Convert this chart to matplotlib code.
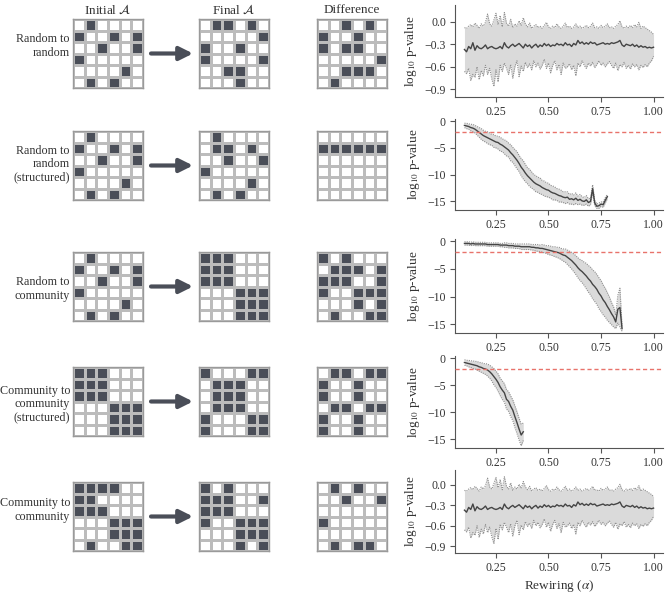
import numpy as np
import matplotlib
matplotlib.use("Agg")
import matplotlib.pyplot as plt
from matplotlib.colors import ListedColormap

plt.rcParams['font.family'] = ['Liberation Serif', 'DejaVu Serif']
plt.rcParams['mathtext.fontset'] = 'stix'

# ---------------- data ----------------
row_labels = ["Random to\nrandom", "Random to\nrandom\n(structured)", "Random to\ncommunity",
              "Community to\ncommunity\n(structured)", "Community to\ncommunity"]
col_titles = [r"Initial $\mathcal{A}$", r"Final $\mathcal{A}$", "Difference"]

rand_init = [[0,1,0,0,0,0],[1,0,0,1,0,1],[0,0,1,0,0,1],[1,0,0,0,0,0],[0,0,0,0,1,0],[0,1,0,1,0,0]]
comm_block = [[1,1,1,0,0,0],[1,1,1,0,0,0],[1,1,1,0,0,0],[0,0,0,1,1,1],[0,0,0,1,1,1],[0,0,0,1,1,1]]

r1_final = [[0,1,1,0,1,0],[0,0,0,0,0,1],[1,0,0,1,0,0],[1,0,0,0,0,1],[0,0,1,1,0,0],[0,0,0,1,0,0]]
r1_diff  = [[0,0,1,0,1,0],[1,0,0,1,0,0],[1,0,1,1,0,0],[0,0,0,0,0,1],[0,0,1,1,1,0],[0,1,0,0,0,0]]
r2_final = [[0,1,0,0,0,0],[0,1,1,0,1,0],[0,0,1,0,0,1],[1,0,0,0,0,0],[0,0,0,0,1,0],[0,1,0,1,0,0]]
r2_diff  = [[0,0,0,0,0,0],[1,1,1,1,1,1],[0,0,0,0,0,0],[0,0,0,0,0,0],[0,0,0,0,0,0],[0,0,0,0,0,0]]
r3_diff  = [[1,0,1,0,0,0],[0,1,1,1,0,1],[1,1,1,0,0,1],[1,0,0,1,1,1],[0,0,0,1,0,1],[0,1,0,0,1,1]]
r4_final = [[1,0,0,0,1,1],[0,1,1,1,0,0],[0,1,1,1,0,0],[0,1,1,1,0,0],[1,0,0,0,1,1],[1,0,0,0,1,1]]
r4_diff  = [[0,1,1,0,1,1],[1,0,0,1,0,0],[1,0,0,1,0,0],[0,1,1,0,1,1],[1,0,0,1,0,0],[1,0,0,1,0,0]]
r5_init  = [[1,1,1,1,0,0],[1,1,0,0,0,0],[1,1,1,0,0,0],[0,0,0,1,1,1],[0,0,0,1,1,1],[0,1,0,0,1,1]]
r5_final = [[1,0,1,0,0,0],[1,1,1,0,0,1],[1,1,1,0,0,0],[1,0,0,1,1,1],[0,0,0,1,1,1],[0,0,0,1,0,1]]
r5_diff  = [[0,1,0,1,0,0],[0,0,1,0,0,1],[0,0,0,0,0,0],[1,0,0,0,0,0],[0,0,0,0,0,0],[0,1,0,1,1,0]]

grids = [[rand_init, r1_final, r1_diff],
         [rand_init, r2_final, r2_diff],
         [rand_init, comm_block, r3_diff],
         [comm_block, r4_final, r4_diff],
         [r5_init, r5_final, r5_diff]]

alpha = [0.10,0.11,0.12,0.13,0.14,0.15,0.16,0.17,0.18,0.19,
         0.20,0.21,0.22,0.23,0.24,0.25,0.26,0.27,0.28,0.29,
         0.30,0.31,0.32,0.33,0.34,0.35,0.36,0.37,0.38,0.39,
         0.40,0.41,0.42,0.43,0.44,0.45,0.46,0.47,0.48,0.49,
         0.50,0.51,0.52,0.53,0.54,0.55,0.56,0.57,0.58,0.59,
         0.60,0.61,0.62,0.63,0.64,0.65,0.66,0.67,0.68,0.69,
         0.70,0.71,0.72,0.73,0.74,0.75,0.76,0.77,0.78,0.79,
         0.80,0.81,0.82,0.83,0.84,0.85,0.86,0.87,0.88,0.89,
         0.90,0.91,0.92,0.93,0.94,0.95,0.96,0.97,0.98,0.99,1.00]

mean_rr = [-0.37,-0.40,-0.33,-0.36,-0.28,-0.38,-0.32,-0.35,-0.36,-0.34,
           -0.31,-0.36,-0.34,-0.33,-0.35,-0.36,-0.35,-0.33,-0.36,-0.28,
           -0.33,-0.35,-0.32,-0.30,-0.33,-0.31,-0.29,-0.32,-0.35,-0.30,
           -0.33,-0.31,-0.35,-0.32,-0.30,-0.34,-0.31,-0.33,-0.29,-0.32,
           -0.30,-0.33,-0.31,-0.32,-0.29,-0.31,-0.30,-0.32,-0.28,-0.31,
           -0.30,-0.33,-0.29,-0.31,-0.25,-0.29,-0.27,-0.30,-0.28,-0.30,
           -0.27,-0.29,-0.28,-0.31,-0.30,-0.29,-0.28,-0.30,-0.29,-0.30,
           -0.28,-0.29,-0.28,-0.27,-0.25,-0.31,-0.33,-0.30,-0.31,-0.32,
           -0.30,-0.33,-0.31,-0.34,-0.32,-0.34,-0.33,-0.35,-0.34,-0.35,-0.34]
up_rr = [-0.08,-0.09,-0.06,-0.04,-0.07,-0.02,-0.05,-0.09,-0.03,-0.06,
         -0.01,0.10,-0.03,-0.06,0.02,0.11,-0.04,0.08,-0.07,0.12,
         -0.02,-0.06,0.03,-0.08,-0.03,-0.06,0.01,-0.05,0.05,-0.03,
         -0.07,-0.02,-0.09,-0.06,-0.04,-0.08,-0.06,-0.09,-0.05,-0.01,
         -0.07,-0.09,-0.06,-0.08,-0.03,-0.07,-0.09,-0.06,-0.02,-0.08,
         -0.06,-0.09,-0.07,-0.03,-0.08,-0.06,-0.09,-0.07,-0.05,-0.08,
         -0.06,-0.02,-0.08,-0.07,-0.09,-0.05,-0.08,-0.06,-0.03,-0.08,
         -0.07,-0.09,-0.06,-0.04,0.01,-0.07,-0.09,-0.06,-0.08,-0.05,
         -0.08,-0.04,-0.07,-0.01,-0.09,-0.06,-0.08,-0.10,-0.12,-0.14,-0.17]
lo_rr = [-0.66,-0.69,-0.62,-0.78,-0.70,-0.74,-0.60,-0.77,-0.65,-0.72,
         -0.58,-0.70,-0.62,-0.76,-0.86,-0.64,-0.80,-0.58,-0.66,-0.55,
         -0.62,-0.70,-0.57,-0.75,-0.60,-0.52,-0.73,-0.59,-0.66,-0.54,
         -0.61,-0.56,-0.64,-0.52,-0.60,-0.55,-0.63,-0.58,-0.50,-0.62,
         -0.55,-0.68,-0.58,-0.52,-0.64,-0.57,-0.70,-0.55,-0.62,-0.60,
         -0.56,-0.64,-0.58,-0.72,-0.55,-0.60,-0.52,-0.58,-0.62,-0.55,
         -0.59,-0.54,-0.61,-0.57,-0.52,-0.58,-0.55,-0.60,-0.56,-0.53,
         -0.58,-0.62,-0.55,-0.65,-0.57,-0.60,-0.54,-0.62,-0.58,-0.63,
         -0.56,-0.60,-0.57,-0.64,-0.58,-0.61,-0.57,-0.60,-0.55,-0.52,-0.46]

mean_rs = [-0.8,-0.9,-1.0,-1.2,-1.3,-1.5,-1.8,-2.1,-2.4,-2.7,
           -2.9,-3.1,-3.3,-3.5,-3.7,-3.9,-4.0,-4.3,-4.5,-4.8,
           -5.1,-5.4,-5.9,-6.3,-6.8,-7.3,-7.9,-8.6,-9.1,-9.7,
           -10.2,-10.6,-11.0,-11.4,-11.7,-11.9,-12.1,-12.4,-12.6,-12.8,
           -12.9,-13.2,-13.4,-13.5,-13.7,-13.9,-14.0,-14.2,-14.3,-14.2,
           -14.6,-14.5,-14.7,-14.4,-14.8,-14.6,-14.9,-15.0,-14.7,-15.2,
           -15.0,-12.6,-15.3,-15.9,-15.8,-15.5,-15.6,-14.8,-14.1]
spread_rs = [0.4,0.5,0.5,0.6,0.7,0.7,0.8,0.9,1.0,1.0,
             1.0,1.1,1.1,1.0,1.2,1.1,1.2,1.3,1.2,1.3,
             1.4,1.3,1.5,1.4,1.5,1.6,1.5,1.6,1.7,1.6,
             1.5,1.6,1.5,1.4,1.5,1.4,1.5,1.3,1.4,1.3,
             1.3,1.2,1.3,1.2,1.1,1.2,1.1,1.0,1.1,1.0,
             0.9,1.0,0.9,1.0,0.8,0.9,0.8,0.7,0.8,0.7,
             0.6,0.7,0.5,0.4,0.5,0.4,0.5,0.5,0.4]

mean_rc = [-0.4,-0.4,-0.4,-0.5,-0.4,-0.5,-0.5,-0.5,-0.5,-0.5,
           -0.5,-0.6,-0.6,-0.6,-0.6,-0.6,-0.6,-0.7,-0.7,-0.7,
           -0.7,-0.8,-0.8,-0.8,-0.9,-0.9,-0.9,-1.0,-1.0,-1.0,
           -1.0,-1.0,-1.1,-1.1,-1.2,-1.2,-1.3,-1.3,-1.4,-1.5,
           -1.6,-1.7,-1.8,-1.9,-2.0,-2.1,-2.3,-2.5,-2.6,-2.9,
           -3.2,-3.5,-3.9,-4.3,-4.8,-5.2,-5.5,-5.9,-6.3,-6.8,
           -7.2,-7.8,-8.2,-8.7,-9.4,-9.9,-10.6,-11.1,-11.8,-12.4,
           -13.1,-13.7,-14.6,-12.3,-12.0,-15.8]
spread_rc = [0.3,0.3,0.3,0.3,0.3,0.3,0.3,0.3,0.3,0.3,
             0.3,0.3,0.3,0.3,0.3,0.3,0.3,0.3,0.3,0.4,
             0.4,0.4,0.4,0.4,0.4,0.4,0.4,0.5,0.5,0.5,
             0.5,0.5,0.5,0.5,0.6,0.6,0.6,0.7,0.7,0.7,
             0.8,0.8,0.8,0.9,0.9,1.0,1.0,1.1,1.2,1.3,
             1.4,1.5,1.6,1.7,1.8,1.9,2.0,2.1,2.3,2.4,
             2.5,2.6,2.7,2.7,2.8,2.8,2.7,2.6,2.5,2.3,
             2.0,1.8,1.2,2.5,3.5,0.5]

mean_cs = [-0.8,-0.9,-1.0,-1.1,-1.2,-1.3,-1.4,-1.6,-1.7,-1.9,
           -2.0,-2.2,-2.5,-2.9,-3.4,-3.9,-4.5,-5.3,-5.9,-6.4,
           -7.6,-8.0,-8.9,-9.6,-10.8,-11.9,-13.1,-14.2,-13.6]
spread_cs = [0.5,0.5,0.6,0.6,0.7,0.7,0.8,0.8,0.9,0.9,
             1.0,1.1,1.2,1.3,1.5,1.5,1.6,1.6,1.7,1.7,
             1.8,1.8,1.9,1.9,2.0,2.0,2.0,2.0,1.6]

xticks = [0.25, 0.50, 0.75, 1.00]
yticks_small = [0.0, -0.3, -0.6, -0.9]
yticks_big = [0, -5, -10, -15]
threshold = -2

# ---------------- layout ----------------
W, H = 665, 597
fig = plt.figure(figsize=(W/100, H/100), dpi=100)
fig.patch.set_facecolor('white')

def px_axes(l, t, r, b):
    return fig.add_axes([l/W, 1 - b/H, (r - l)/W, (b - t)/H])

dark = '#4a4e58'
txt = '#333333'
cmap = ListedColormap(['white', dark])

col_x = [73, 199, 317]
gw, gh = 70, 69
row_top = [19, 131, 252, 367, 482]
label_yc = [46, 164, 289, 404, 510]

for j, t in enumerate(col_titles):
    fig.text((col_x[j] + gw/2)/W, 1 - 10/H, t, ha='center', va='center', fontsize=9.5, color=txt)

for i in range(5):
    yc = row_top[i] + gh/2
    fig.text(70/W, 1 - label_yc[i]/H, row_labels[i], ha='right', va='center', fontsize=8.7,
             color=txt, linespacing=1.15)
    for j in range(3):
        ax = px_axes(col_x[j], row_top[i], col_x[j] + gw, row_top[i] + gh)
        ax.pcolormesh(np.array(grids[i][j]), cmap=cmap, vmin=0, vmax=1,
                      edgecolors='#bcbcbc', linewidth=0.9)
        ax.set_xlim(0, 6)
        ax.set_ylim(6, 0)
        ax.set_xticks([]); ax.set_yticks([])
        for s in ax.spines.values():
            s.set_color('#9a9a9a'); s.set_linewidth(1.0)
    fig.add_artist(matplotlib.patches.FancyArrowPatch(
        (151/W, 1 - yc/H), (193/W, 1 - yc/H), transform=fig.transFigure,
        arrowstyle='-|>', mutation_scale=20, lw=3.0, color=dark,
        shrinkA=0, shrinkB=0))

# right plots
plot_boxes = [(455, 5, 663, 97), (455, 119, 663, 210), (455, 239, 663, 333),
              (455, 356, 663, 448), (455, 470, 663, 553)]

series = [
    (mean_rr, up_rr, lo_rr, None),
    (mean_rs, None, None, spread_rs),
    (mean_rc, None, None, spread_rc),
    (mean_cs, None, None, spread_cs),
    (mean_rr, up_rr, lo_rr, None),
]

for k, (l, t, r, b) in enumerate(plot_boxes):
    ax = px_axes(l, t, r, b)
    m, up, lo, sp = series[k]
    n = len(m)
    x = alpha[:n]
    m = np.array(m)
    if sp is not None:
        up = m + np.array(sp)
        lo = m - np.array(sp)
    ax.fill_between(x, lo, up, color='#dadada', lw=0, zorder=1)
    ax.plot(x, up, color='#8f8f8f', ls=(0, (1, 1)), lw=0.8, zorder=2)
    ax.plot(x, lo, color='#8f8f8f', ls=(0, (1, 1)), lw=0.8, zorder=2)
    ax.plot(x, m, color='#444444', lw=1.0, zorder=3)
    ax.set_xlim(0.055, 1.045)
    ax.set_xticks(xticks)
    ax.set_xticklabels(['%.2f' % v for v in xticks])
    if k in (0, 4):
        ax.set_ylim(-1.0, 0.22)
        ax.set_yticks(yticks_small)
        ax.set_yticklabels(['0.0' if v == 0 else '\u2212%.1f' % abs(v) for v in yticks_small])
    else:
        ax.set_ylim(-16.6, 0.4)
        ax.set_yticks(yticks_big)
        ax.set_yticklabels(['0' if v == 0 else '\u2212%d' % abs(v) for v in yticks_big])
        ax.axhline(threshold, color='#e8736b', ls=(0, (3, 2)), lw=1.0, zorder=4)
    for s in ('top', 'right'):
        ax.spines[s].set_visible(False)
    for s in ('left', 'bottom'):
        ax.spines[s].set_color('#555555'); ax.spines[s].set_linewidth(0.8)
    ax.tick_params(direction='out', length=3.5, width=0.8, colors='#555555',
                   labelsize=8.5, labelcolor=txt, pad=3)
    ax.set_ylabel(r'log$_{10}$ p-value', fontsize=9.5, color=txt, labelpad=4)
    if k == 4:
        ax.set_xlabel(r'Rewiring ($\alpha$)', fontsize=9.5, color=txt, labelpad=3)

fig.savefig('out.png', dpi=100, facecolor='white')
